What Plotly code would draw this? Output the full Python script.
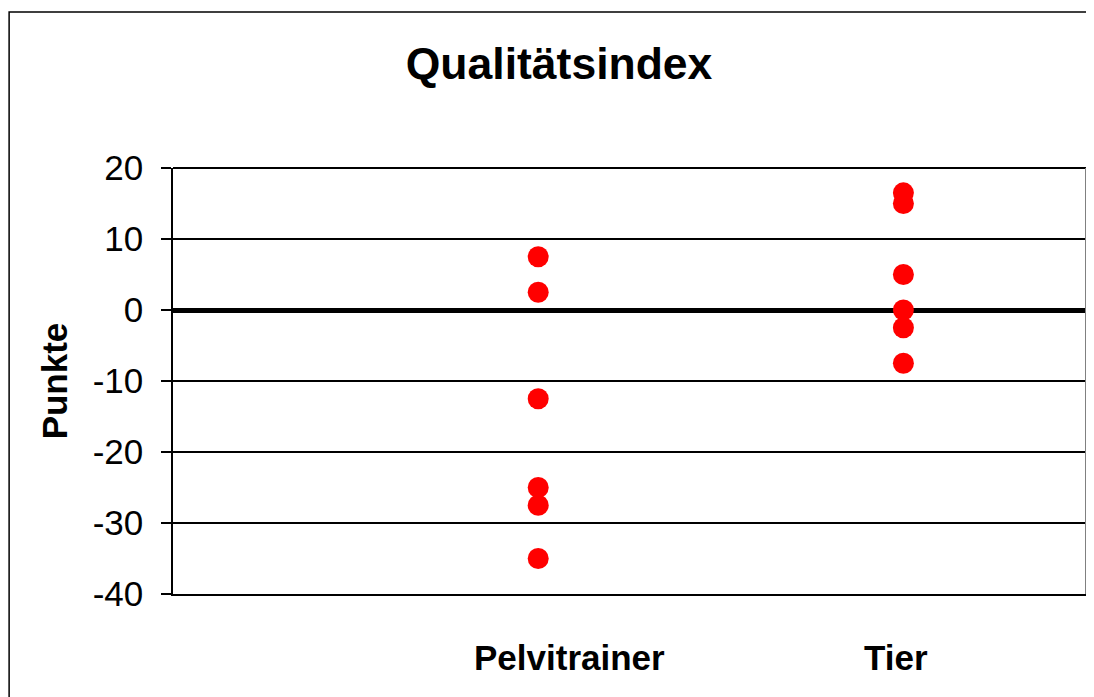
import plotly.graph_objects as go

# data
groups = ["Pelvitrainer", "Tier"]
group_x = [2, 4]
pelvitrainer = [7.5, 2.5, -12.5, -25, -27.5, -35]
tier = [16.5, 15, 5, 0, -2.5, -7.5]
label_x = [2.17, 3.96]
y_ticks = [20, 10, 0, -10, -20, -30, -40]
y_ticktext = ["20", "10", "0", "-10", "-20", "-30", "-40"]

FONT = "Liberation Sans, Arial, sans-serif"

fig = go.Figure()
for gx, vals in zip(group_x, [pelvitrainer, tier]):
    fig.add_trace(go.Scatter(
        x=[gx] * len(vals),
        y=vals,
        mode="markers",
        marker=dict(color="#ff0000", size=21, line=dict(width=0)),
        showlegend=False,
        cliponaxis=False,
    ))

# category labels under the plot area
for name, lx in zip(groups, label_x):
    fig.add_annotation(
        x=lx, xref="x", y=-0.148, yref="paper",
        text="<b>%s</b>" % name, showarrow=False,
        yanchor="middle", xanchor="center",
        font=dict(family=FONT, size=35, color="black"),
    )

# outer chart border
fig.add_shape(type="rect", xref="paper", yref="paper",
              x0=-0.1795, x1=1.2, y0=-0.5, y1=1.366,
              line=dict(color="black", width=1.5), layer="below")

# plot area top and right border
fig.add_shape(type="line", xref="paper", yref="paper",
              x0=0, x1=1, y0=1, y1=1, line=dict(color="black", width=2))
fig.add_shape(type="line", xref="paper", yref="paper",
              x0=1, x1=1, y0=0, y1=1, line=dict(color="#808080", width=2))

fig.update_layout(
    width=1094, height=697,
    margin=dict(l=165, r=16, t=160, b=111),
    paper_bgcolor="white", plot_bgcolor="white",
    title=dict(text="<b>Qualitätsindex</b>", x=0.5037, xref="container",
               y=0.921, yref="container", xanchor="center", yanchor="middle",
               font=dict(family=FONT, size=44.5, color="black")),
    xaxis=dict(range=[0, 5], showgrid=False, zeroline=False,
               showticklabels=False, ticks="",
               showline=True, linecolor="black", linewidth=2),
    yaxis=dict(range=[-40, 20], tickvals=y_ticks, ticktext=y_ticktext,
               ticks="outside", ticklen=10,
               tickcolor="black", tickwidth=1.5,
               ticklabelstandoff=11,
               showgrid=True, gridcolor="black", gridwidth=1.5,
               zeroline=True, zerolinecolor="black", zerolinewidth=5,
               showline=True, linecolor="black", linewidth=1.5,
               tickfont=dict(family=FONT, size=35, color="black"),
               title=dict(text="<b>Punkte</b>", standoff=14,
                          font=dict(family=FONT, size=35, color="black"))),
    font=dict(family=FONT, color="black"),
)

fig.write_html("out.html")
